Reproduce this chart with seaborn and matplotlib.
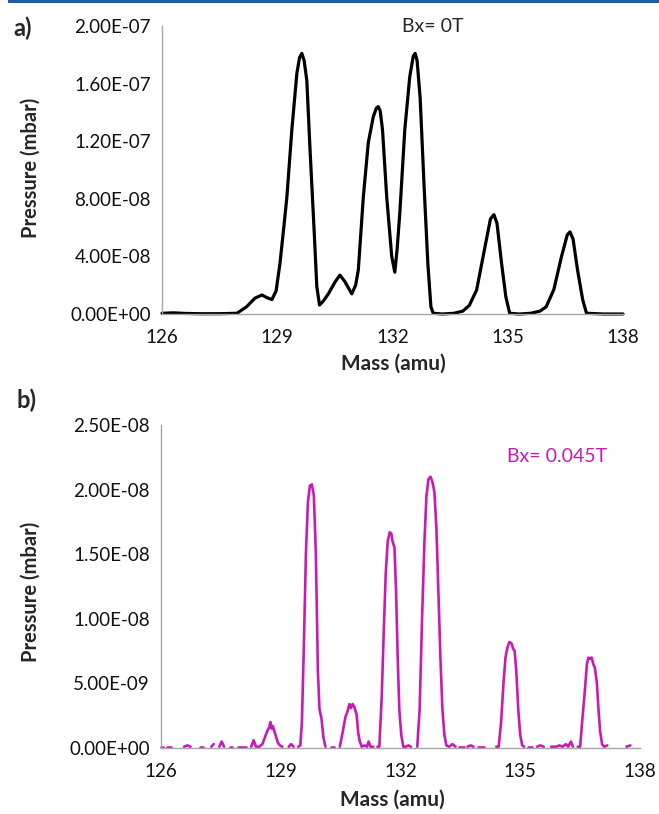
import numpy as np
import pandas as pd
import matplotlib
matplotlib.use("Agg")
import matplotlib.pyplot as plt
from matplotlib.ticker import FuncFormatter
from matplotlib.patches import Rectangle
import seaborn as sns

# ---------------- data ----------------
# panel a (Bx = 0 T), pressure in units of 1e-8 mbar
mass_a = [126.0, 126.3, 126.6, 127.0, 127.5, 127.95, 128.2, 128.42, 128.6, 128.72,
          128.86, 128.97, 129.07, 129.17, 129.25, 129.38, 129.51, 129.58, 129.64, 129.7,
          129.77, 129.85, 129.96, 130.03, 130.1, 130.2, 130.33, 130.5, 130.63, 130.76,
          130.94, 131.04, 131.11, 131.24, 131.37, 131.5, 131.58, 131.63, 131.68, 131.74,
          131.85, 131.98, 132.06, 132.12, 132.19, 132.32, 132.45, 132.54, 132.59, 132.64,
          132.72, 132.82, 132.92, 133.0, 133.06, 133.3, 133.6, 133.83, 134.0, 134.19,
          134.41, 134.55, 134.64, 134.72, 134.84, 134.95, 135.05, 135.3, 135.6, 135.84,
          136.0, 136.2, 136.4, 136.55, 136.62, 136.7, 136.82, 136.95, 137.05, 137.5, 138.0]
pressure_a_e8 = [0.05, 0.08, 0.04, 0.02, 0.02, 0.05, 0.5, 1.1, 1.32, 1.15,
                 1.0, 1.6, 3.5, 6.0, 8.1, 12.8, 16.7, 17.8, 18.1, 17.6,
                 16.2, 11.6, 5.8, 1.9, 0.62, 0.9, 1.4, 2.2, 2.7, 2.25,
                 1.4, 2.0, 3.06, 8.1, 11.9, 13.7, 14.3, 14.4, 14.1, 12.8,
                 8.1, 4.0, 2.9, 4.5, 7.0, 12.8, 16.5, 17.9, 18.1, 17.6,
                 15.0, 9.0, 3.5, 0.5, 0.05, 0.0, 0.05, 0.2, 0.6, 1.67,
                 4.7, 6.6, 6.9, 6.3, 3.5, 1.2, 0.05, 0.0, 0.05, 0.2,
                 0.5, 1.7, 4.0, 5.5, 5.7, 5.2, 3.0, 1.0, 0.05, 0.0, 0.0]

# panel b (Bx = 0.045 T), pressure in units of 1e-9 mbar, None = gap in trace
mass_b = [126.00, 126.06, 126.10, 126.16, 126.24, 126.28, 126.58, 126.66, 126.74, 126.80,
          126.98, 127.04, 127.10, 127.26, 127.32, 127.38, 127.46, 127.52, 127.58, 127.64,
          127.72, 127.78, 127.84, 127.92, 128.04, 128.12, 128.18, 128.26, 128.32, 128.38,
          128.46, 128.54, 128.60, 128.66, 128.71, 128.74, 128.77, 128.80, 128.84, 128.88,
          128.93, 128.98, 129.04, 129.08, 129.20, 129.26, 129.32, 129.36, 129.44, 129.49,
          129.53, 129.58, 129.63, 129.68, 129.73, 129.78, 129.83, 129.88, 129.93, 129.97,
          130.02, 130.07, 130.12, 130.20, 130.26, 130.34, 130.40, 130.48, 130.55, 130.62,
          130.68, 130.72, 130.76, 130.80, 130.84, 130.90, 130.94, 130.98, 131.03, 131.10,
          131.16, 131.20, 131.25, 131.32, 131.38, 131.42, 131.47, 131.53, 131.58, 131.63,
          131.68, 131.73, 131.77, 131.80, 131.85, 131.89, 131.93, 131.97, 132.02, 132.07,
          132.14, 132.20, 132.26, 132.30, 132.42, 132.48, 132.54, 132.60, 132.65, 132.70,
          132.75, 132.80, 132.85, 132.90, 132.95, 133.00, 133.05, 133.10, 133.15, 133.22,
          133.30, 133.38, 133.42, 133.46, 133.58, 133.62, 133.68, 133.76, 133.83, 133.88,
          133.93, 134.08, 134.14, 134.40, 134.46, 134.52, 134.58, 134.63, 134.68, 134.73,
          134.78, 134.82, 134.86, 134.90, 134.95, 135.00, 135.05, 135.10, 135.14, 135.19,
          135.30, 135.36, 135.42, 135.50, 135.59, 135.64, 135.77, 135.90, 135.98, 136.06,
          136.14, 136.20, 136.27, 136.32, 136.38, 136.44, 136.50, 136.55, 136.62, 136.67,
          136.71, 136.75, 136.79, 136.83, 136.87, 136.92, 136.96, 137.00, 137.05, 137.10,
          137.18, 137.22, 137.66, 137.76, 137.80]
pressure_b_e9 = [0.1, 0.1, None, 0.1, 0.1, None, 0.1, 0.2, 0.1, None,
                 0.1, 0.1, None, 0.1, 0.3, None, 0.1, 0.5, 0.1, None,
                 0.1, 0.1, None, 0.1, 0.1, 0.1, None, 0.1, 0.6, 0.1,
                 0.1, 0.3, 0.8, 1.3, 1.6, 2.0, 1.5, 1.7, 1.3, 0.9,
                 0.4, 0.2, 0.1, None, 0.1, 0.3, 0.1, None, 0.1, 0.2,
                 2.0, 8.0, 15.0, 19.0, 20.3, 20.4, 19.5, 15.0, 6.0, 3.0,
                 2.3, 0.8, 0.1, None, 0.1, 0.1, None, 0.1, 1.2, 2.4,
                 2.9, 3.4, 3.1, 3.4, 3.2, 2.6, 1.2, 0.5, 0.1, 0.2,
                 0.1, 0.5, 0.1, 0.1, None, 0.1, 0.1, 4.0, 9.0, 13.5,
                 16.0, 16.7, 16.6, 16.0, 15.5, 12.0, 7.0, 3.0, 1.0, 0.1,
                 0.1, 0.2, 0.1, None, 0.1, 3.0, 10.0, 16.0, 19.5, 20.8,
                 21.0, 20.6, 19.8, 17.0, 12.0, 7.0, 3.0, 1.0, 0.2, 0.1,
                 0.3, 0.1, None, 0.1, 0.1, None, 0.1, 0.2, 0.1, None,
                 0.1, 0.1, None, 0.1, 0.1, 2.0, 5.0, 7.0, 7.8, 8.2,
                 8.1, 7.7, 7.5, 6.0, 3.0, 1.0, 0.2, 0.1, None, 0.1,
                 0.1, None, 0.1, 0.2, 0.1, None, 0.1, 0.1, 0.2, 0.1,
                 0.3, 0.1, 0.5, 0.1, None, 0.1, 0.1, 2.0, 4.5, 6.5,
                 7.0, 6.9, 7.0, 6.5, 6.2, 5.0, 3.0, 1.3, 0.3, 0.1,
                 0.2, None, 0.1, 0.2, None]

x_ticks = [126, 129, 132, 135, 138]
y_ticks_a = [0, 4e-8, 8e-8, 1.2e-7, 1.6e-7, 2e-7]
y_ticks_b = [0, 5e-9, 1e-8, 1.5e-8, 2e-8, 2.5e-8]

# ---------------- frames ----------------
df_a = pd.DataFrame({"mass": mass_a, "pressure": np.array(pressure_a_e8) * 1e-8})

pb = np.array(pressure_b_e9, dtype=float) * 1e-9
seg = np.cumsum(np.isnan(pb))
df_b = pd.DataFrame({"mass": mass_b, "pressure": pb, "seg": seg}).dropna()

# ---------------- style ----------------
sns.set_style("white")
plt.rcParams["font.family"] = ["Lato", "DejaVu Sans"]

W, H = 659, 814
fig = plt.figure(figsize=(W / 100, H / 100), dpi=100)

# journal header bar
fig.patches.append(Rectangle((8 / W, 1 - 3 / H), 1, 3 / H, transform=fig.transFigure,
                             facecolor="#1f5ca8", edgecolor="none"))

ax1 = fig.add_axes([162 / W, 1 - 314 / H, (623 - 162) / W, (314 - 26) / H])
ax2 = fig.add_axes([161 / W, 1 - 748 / H, (640 - 161) / W, (748 - 425) / H])

sns.lineplot(data=df_a, x="mass", y="pressure", ax=ax1, color="black",
             linewidth=2.3, estimator=None, sort=False, clip_on=False,
             solid_joinstyle="round", solid_capstyle="round")
sns.lineplot(data=df_b, x="mass", y="pressure", units="seg", ax=ax2,
             color="#c81ab4", linewidth=1.9, estimator=None, sort=False,
             clip_on=False, solid_joinstyle="round", solid_capstyle="round")

fmt = FuncFormatter(lambda v, p: f"{v:.2E}")
grey = "#a6a6a6"
for ax, yt in ((ax1, y_ticks_a), (ax2, y_ticks_b)):
    ax.set_xlim(126, 138)
    ax.set_ylim(yt[0], yt[-1])
    ax.set_xticks(x_ticks)
    ax.set_yticks(yt)
    ax.yaxis.set_major_formatter(fmt)
    ax.set_xlabel("")
    ax.set_ylabel("")
    for s in ("top", "right"):
        ax.spines[s].set_visible(False)
    for s in ("left", "bottom"):
        ax.spines[s].set_color(grey)
        ax.spines[s].set_linewidth(1.0)
    ax.tick_params(direction="out", length=5, width=1, color=grey,
                   labelsize=13.5, labelcolor="#111111")
    ax.tick_params(axis="y", pad=3)
    ax.tick_params(axis="x", pad=6)
    ax.set_facecolor("none")

# axis titles and annotations
fig.text(31 / W, 1 - 168 / H, "Pressure (mbar)", rotation=90, ha="center", va="center",
         fontsize=14.5, fontweight="bold")
fig.text(31 / W, 1 - 592 / H, "Pressure (mbar)", rotation=90, ha="center", va="center",
         fontsize=14.5, fontweight="bold")
fig.text(393 / W, 1 - 364 / H, "Mass (amu)", ha="center", va="center",
         fontsize=15, fontweight="bold")
fig.text(392 / W, 1 - 800 / H, "Mass (amu)", ha="center", va="center",
         fontsize=15, fontweight="bold")
fig.text(23 / W, 1 - 28 / H, "a)", ha="center", va="center", fontsize=17, fontweight="bold")
fig.text(26 / W, 1 - 400 / H, "b)", ha="center", va="center", fontsize=17, fontweight="bold")
fig.text(433 / W, 1 - 27 / H, "Bx= 0T", ha="center", va="center", fontsize=14)
fig.text(557 / W, 1 - 456 / H, "Bx= 0.045T", ha="center", va="center", fontsize=14,
         color="#c81ab4")

fig.savefig("out.png", dpi=100)
